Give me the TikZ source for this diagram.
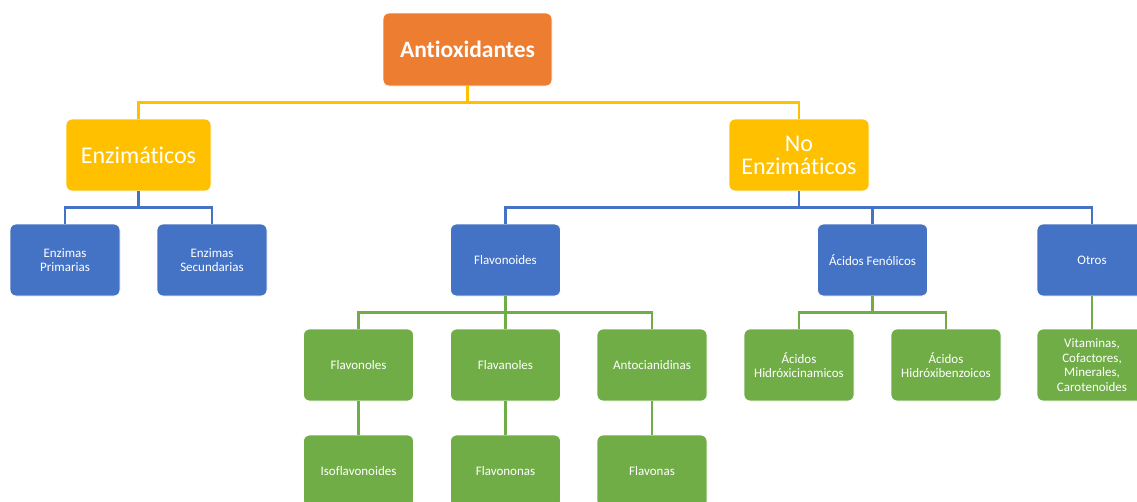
\documentclass[tikz,border=0pt]{standalone}
\usepackage{fontspec}
\setmainfont{Carlito}[Ligatures=NoCommon]
\definecolor{corange}{HTML}{ED7D31}
\definecolor{cyellow}{HTML}{FFC000}
\definecolor{cblue}{HTML}{4472C4}
\definecolor{cgreen}{HTML}{70AD47}
\tikzset{
  box/.style={rounded corners=6pt, draw=white, line width=0.8pt, text=white, align=center, inner sep=0pt, minimum width=110pt, minimum height=72pt},
  bluebox/.style={box, fill=cblue, font=\fontsize{13}{14.7}\selectfont},
  greenbox/.style={box, fill=cgreen, font=\fontsize{13}{14.7}\selectfont},
  yelbox/.style={box, fill=cyellow, font=\fontsize{24}{23}\selectfont},
  link/.style={line width=2.6pt},
}
\begin{document}
\begin{tikzpicture}[x=1pt,y=-1pt]
\useasboundingbox (0,0) rectangle (1137,501);
\clip (0,0) rectangle (1137,501);
% nodes
\node[box, fill=corange, minimum width=169pt, minimum height=73pt, font=\fontsize{23.5}{26}\selectfont\bfseries] (root) at (467.5,49.5) {Antioxidantes};
\node[yelbox, minimum width=145pt] (enz) at (138.5,155) {Enzimáticos};
\node[yelbox, minimum width=140pt] (noenz) at (799,155) {No\\Enzimáticos};
\node[bluebox] (prim) at (65,260) {Enzimas\\Primarias};
\node[bluebox] (sec) at (212,260) {Enzimas\\Secundarias};
\node[bluebox] (flav) at (505.5,260) {Flavonoides};
\node[bluebox] (acf) at (872.5,260) {Ácidos Fenólicos};
\node[bluebox] (otros) at (1092,260) {Otros};
\node[greenbox] (flvl) at (358.5,365) {Flavonoles};
\node[greenbox] (flnl) at (505.5,365) {Flavanoles};
\node[greenbox] (anto) at (652,365) {Antocianidinas};
\node[greenbox] (isof) at (358.5,471) {Isoflavonoides};
\node[greenbox] (flvn) at (505.5,471) {Flavononas};
\node[greenbox] (flvs) at (652,471) {Flavonas};
\node[greenbox] (hcin) at (799,365) {Ácidos\\Hidróxicinamicos};
\node[greenbox] (hben) at (946,365) {Ácidos\\Hidróxibenzoicos};
\node[greenbox] (vit) at (1092,365) {Vitaminas,\\Cofactores,\\Minerales,\\Carotenoides};
% connectors
\begin{scope}[link, draw=cyellow]
\draw (root.south) -- ++(0,16) -| (enz.north);
\draw (root.south) -- ++(0,16) -| (noenz.north);
\end{scope}
\begin{scope}[link, draw=cblue]
\draw (enz.south) -- ++(0,16) -| (prim.north);
\draw (enz.south) -- ++(0,16) -| (sec.north);
\draw (noenz.south) -- ++(0,16) -| (flav.north);
\draw (noenz.south) -- ++(0,16) -| (acf.north);
\draw (noenz.south) -- ++(0,16) -| (otros.north);
\end{scope}
\begin{scope}[link, draw=cgreen]
\draw (flav.south) -- ++(0,16) -| (flvl.north);
\draw (flav.south) -- (flnl.north);
\draw (flav.south) -- ++(0,16) -| (anto.north);
\draw (flvl.south) -- (isof.north);
\draw (flnl.south) -- (flvn.north);
\draw (anto.south) -- (flvs.north);
\draw (acf.south) -- ++(0,16) -| (hcin.north);
\draw (acf.south) -- ++(0,16) -| (hben.north);
\draw (otros.south) -- (vit.north);
\end{scope}
\end{tikzpicture}
\end{document}
